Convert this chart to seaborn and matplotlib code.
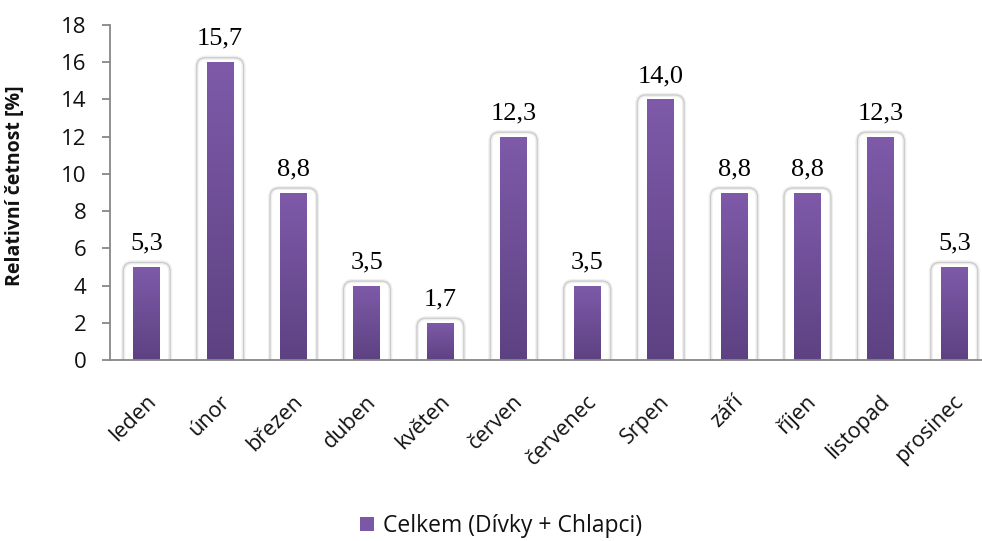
import numpy as np
import matplotlib
matplotlib.use("Agg")
import matplotlib.pyplot as plt
import matplotlib.transforms as mtransforms
import seaborn as sns
from matplotlib.patches import FancyBboxPatch, Patch
from matplotlib.colors import LinearSegmentedColormap

# Monthly relative frequencies (%)
months = ["leden", "únor", "březen", "duben", "květen", "červen",
          "červenec", "Srpen", "září", "říjen", "listopad", "prosinec"]
values = [5.3, 15.7, 8.8, 3.5, 1.7, 12.3, 3.5, 14.0, 8.8, 8.8, 12.3, 5.3]
series_name = "Celkem (Dívky + Chlapci)"
y_label = "Relativní četnost [%]"
y_ticks = [0, 2, 4, 6, 8, 10, 12, 14, 16, 18]

# bars are drawn at the whole-percent value of each frequency
heights = np.floor(np.asarray(values) + 0.5)

sns.set_theme(style="white")
plt.rcParams["font.family"] = ["Open Sans", "DejaVu Sans"]

W, H = 982, 541
fig = plt.figure(figsize=(W / 100, H / 100), dpi=100)
ax = fig.add_axes([110 / W, 1 - 360 / H, 881 / W, 335 / H])

top_col = "#7e5aa9"
bot_col = "#5d4282"
sns.barplot(x=months, y=heights, color=top_col, saturation=1, width=0.367,
            edgecolor="none", ax=ax, zorder=3)

ax.set_xlim(-0.5, len(months) - 0.5)
ax.set_ylim(0, 18)

# pixel scale of the data units, used for rounded frames
px_x = 881 / len(months)
px_y = 335 / 18
aspect = px_x / px_y

grad = LinearSegmentedColormap.from_list("bar", [bot_col, top_col])
gvals = np.linspace(0, 1, 128).reshape(-1, 1)

for bar in list(ax.patches):
    x0 = bar.get_x()
    w = bar.get_width()
    h = bar.get_height()
    # white rounded frame with soft grey rim behind every bar
    padx = 10 / px_x
    padt = 4.5 / px_y
    r = 9 / px_x
    for lw, ec, fc in [(3.0, "#f0f0f0", "white"), (1.2, "#e0e0e0", "none"), (0.6, "#c8c8c8", "none")]:
        fr = FancyBboxPatch((x0 - padx, -1), w + 2 * padx, h + 1 + padt,
                            boxstyle=f"round,pad=0,rounding_size={r}",
                            mutation_aspect=aspect, fc=fc, ec=ec, lw=lw, zorder=1)
        ax.add_patch(fr)
    # vertical purple gradient clipped to the bar
    im = ax.imshow(gvals, cmap=grad, extent=[x0, x0 + w, 0, h], origin="lower",
                   aspect="auto", zorder=4, interpolation="bicubic")
    im.set_clip_path(bar)

ax.set_xlim(-0.5, len(months) - 0.5)
ax.set_ylim(0, 18)

# value labels above the bars
for i, (v, h) in enumerate(zip(values, heights)):
    ax.annotate(f"{v:.1f}".replace(".", ","), (i, h), xytext=(0, 12.5),
                textcoords="offset points", ha="center", va="baseline",
                fontsize=19, family="Liberation Serif", color="black", zorder=6)

# axes styling
for s in ["top", "right"]:
    ax.spines[s].set_visible(False)
for s in ["left", "bottom"]:
    ax.spines[s].set_color("#878787")
    ax.spines[s].set_linewidth(1.3)
    ax.spines[s].set_zorder(7)

ax.set_yticks(y_ticks)
ax.tick_params(axis="y", which="both", left=True, length=6, width=1.3,
               color="#878787", pad=11, labelsize=16, labelcolor="#111111")
ax.tick_params(axis="x", bottom=False, pad=6, labelsize=15.5, labelcolor="#111111")
for lab in ax.get_xticklabels():
    lab.set_rotation(45)
    lab.set_ha("right")
    lab.set_va("center")
    lab.set_rotation_mode("anchor")
ax.set_xlabel("")
ax.set_ylabel(y_label, fontsize=14, fontweight="bold", color="#111111")
ax.yaxis.set_label_coords(-85 / 881, 0.52)

# shift the rotated month labels down below the axis
offs = mtransforms.ScaledTranslation(6 / 100, -22 / 100, fig.dpi_scale_trans)
for lab in ax.get_xticklabels():
    lab.set_transform(lab.get_transform() + offs)

handle = Patch(facecolor="#7a58a5", edgecolor="none")
fig.legend([handle], [series_name], loc="center", bbox_to_anchor=(501 / W, 1 - 526 / H),
           frameon=False, fontsize=16.5, handlelength=0.6, handleheight=0.6,
           handletextpad=0.4, labelcolor="#111111")

fig.savefig("out.png", dpi=100, facecolor="white")
